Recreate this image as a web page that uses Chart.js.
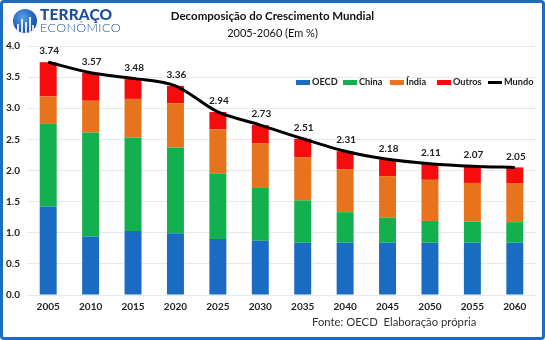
<!DOCTYPE html>
<html>
<head>
<meta charset="utf-8">
<script src="https://cdn.jsdelivr.net/npm/chart.js@4.4.1/dist/chart.umd.min.js"></script>
<style>
    html, body { margin: 0; padding: 0; background: #fff; }
    #frame {
        position: relative; width: 545px; height: 340px; box-sizing: border-box;
        border: 3px solid #1c6cc2; border-radius: 4px; overflow: hidden; background: #fff;
        font-family: Lato, "Open Sans", sans-serif;
    }
    #chartBox { position: absolute; left: -3px; top: -3px; width: 545px; height: 340px; }
    .logo { position: absolute; left: 10px; top: 4px; }
    .logo .globe {
        position: absolute; left: 0; top: 2px; width: 24px; height: 24px; border-radius: 50%;
        background: radial-gradient(circle at 40% 35%, #5aa0e8, #1a5bb8 60%, #0d3f8a);
        overflow: hidden;
    }
    .logo .globe i { position: absolute; bottom: 0; background: #fff; opacity: .85; width: 2px; }
    .logo .t1 { position: absolute; left: 27px; top: 0; font: 900 15.5px Lato, sans-serif; color: #1d4e9f; letter-spacing: .1px; white-space: nowrap; line-height: 14px; }
    .logo .t2 { position: absolute; left: 27px; top: 14px; font: 300 12.5px Lato, sans-serif; color: #1d4e9f; letter-spacing: .4px; white-space: nowrap; line-height: 13px; }
    .title { position: absolute; left: -3px; width: 545px; text-align: center; color: #111; white-space: nowrap; }
    #t1 { top: 6px; font: bold 11.5px Lato, sans-serif; }
    #t2 { top: 23px; font: 11px Lato, sans-serif; }
    #legend { position: absolute; top: 73px; left: -3px; font: bold 9.2px Lato, sans-serif; color: #222; }
    #legend span { position: absolute; top: 0; display: flex; align-items: center; white-space: nowrap; line-height: 12px; }
    #legend b { display: inline-block; width: 14px; height: 5px; margin-right: 2px; }
    #fonte { position: absolute; left: 309px; top: 312px; font: 11.3px Lato, sans-serif; color: #333; white-space: nowrap; }
</style>
</head>
<body>
<div id="frame">
    <div id="chartBox"><canvas id="myChart" width="545" height="340"></canvas></div>
    <div class="logo">
        <div class="globe"><i style="left:4px;height:9px"></i><i style="left:8px;height:14px"></i><i style="left:12px;height:11px"></i><i style="left:16px;height:16px"></i><i style="left:19px;height:8px"></i></div>
        <div class="t1">TERRAÇO</div>
        <div class="t2">ECONÔMICO</div>
    </div>
    <div class="title" id="t1">Decomposição do Crescimento Mundial</div>
    <div class="title" id="t2">2005-2060 (Em %)</div>
    <div id="legend"></div>
    <div id="fonte">Fonte: OECD&nbsp; Elaboração própria</div>
</div>
<script>
// Datos
const anos = ['2005', '2010', '2015', '2020', '2025', '2030', '2035', '2040', '2045', '2050', '2055', '2060'];
const oecd = [1.42, 0.94, 1.03, 0.99, 0.90, 0.87, 0.84, 0.84, 0.84, 0.84, 0.84, 0.84];
const china = [1.33, 1.67, 1.50, 1.38, 1.05, 0.85, 0.68, 0.49, 0.40, 0.35, 0.34, 0.33];
const india = [0.44, 0.51, 0.62, 0.71, 0.71, 0.72, 0.69, 0.69, 0.67, 0.66, 0.62, 0.62];
const outros = [0.55, 0.45, 0.33, 0.28, 0.28, 0.29, 0.30, 0.29, 0.27, 0.26, 0.27, 0.26];
const mundo = [3.74, 3.57, 3.48, 3.36, 2.94, 2.73, 2.51, 2.31, 2.18, 2.11, 2.07, 2.05];
const yTicks = [0, 0.5, 1, 1.5, 2, 2.5, 3, 3.5, 4];

const colores = { OECD: '#1a6cc2', China: '#12b04f', India: '#e7731c', Outros: '#f50d0d' };

// Leyenda en HTML (posiciones como en la imagen)
const legend = document.getElementById('legend');
const itemsLeyenda = [['OECD', colores.OECD, 296], ['China', colores.China, 343], ['Índia', colores.India, 390],
                      ['Outros', colores.Outros, 437], ['Mundo', '#000', 488]];
itemsLeyenda.forEach(function(it) {
    const alto = it[0] === 'Mundo' ? 3 : 5;
    legend.innerHTML += '<span style="left:' + it[2] + 'px"><b style="background:' + it[1] + ';height:' + alto + 'px"></b>' + it[0] + '</span>';
});

// Etiquetas de valores sobre la línea
const etiquetas = {
    id: 'etiquetas',
    afterDatasetsDraw(chart) {
        const meta = chart.getDatasetMeta(4);
        const ctx = chart.ctx;
        ctx.save();
        ctx.font = 'bold 10px Lato, sans-serif';
        ctx.fillStyle = '#222';
        ctx.textAlign = 'center';
        ctx.textBaseline = 'bottom';
        meta.data.forEach(function(p, i) {
            ctx.fillText(mundo[i].toFixed(2), p.x + 1, p.y - 6);
        });
        ctx.restore();
    }
};

const ctx = document.getElementById('myChart').getContext('2d');
const bar = function(label, data, color) {
    return { type: 'bar', label: label, data: data, backgroundColor: color, stack: 's', order: 2,
             barPercentage: 0.8, categoryPercentage: 0.5 };
};
const chart = new Chart(ctx, {
    data: {
        labels: anos,
        datasets: [
            bar('OECD', oecd, colores.OECD),
            bar('China', china, colores.China),
            bar('Índia', india, colores.India),
            bar('Outros', outros, colores.Outros),
            { type: 'line', label: 'Mundo', data: mundo, borderColor: '#000', borderWidth: 3,
              pointRadius: 0, tension: 0.3, stack: 'm', order: 0 }
        ]
    },
    options: {
        responsive: false,
        animation: false,
        devicePixelRatio: 1,
        layout: { padding: { top: 46, left: 0, right: 9, bottom: 27 } },
        plugins: { legend: { display: false }, tooltip: { enabled: false } },
        scales: {
            x: {
                stacked: true,
                grid: { display: false, drawTicks: false },
                border: { display: false },
                afterFit: function(axis) { axis.height = 18; },
                ticks: { color: '#222', font: { family: 'Lato', weight: 'bold', size: 10 }, padding: 6, maxRotation: 0 }
            },
            y: {
                stacked: true,
                min: 0, max: 4,
                afterBuildTicks: function(axis) { axis.ticks = yTicks.map(function(v) { return { value: v }; }); },
                afterFit: function(axis) { axis.width = 27; },
                grid: { color: '#e8e8e8', drawTicks: false },
                border: { display: false },
                ticks: { color: '#222', font: { family: 'Lato', weight: 'bold', size: 10 }, padding: 7,
                         callback: function(v) { return v.toFixed(1); } }
            }
        }
    },
    plugins: [etiquetas]
});
</script>
</body>
</html>
